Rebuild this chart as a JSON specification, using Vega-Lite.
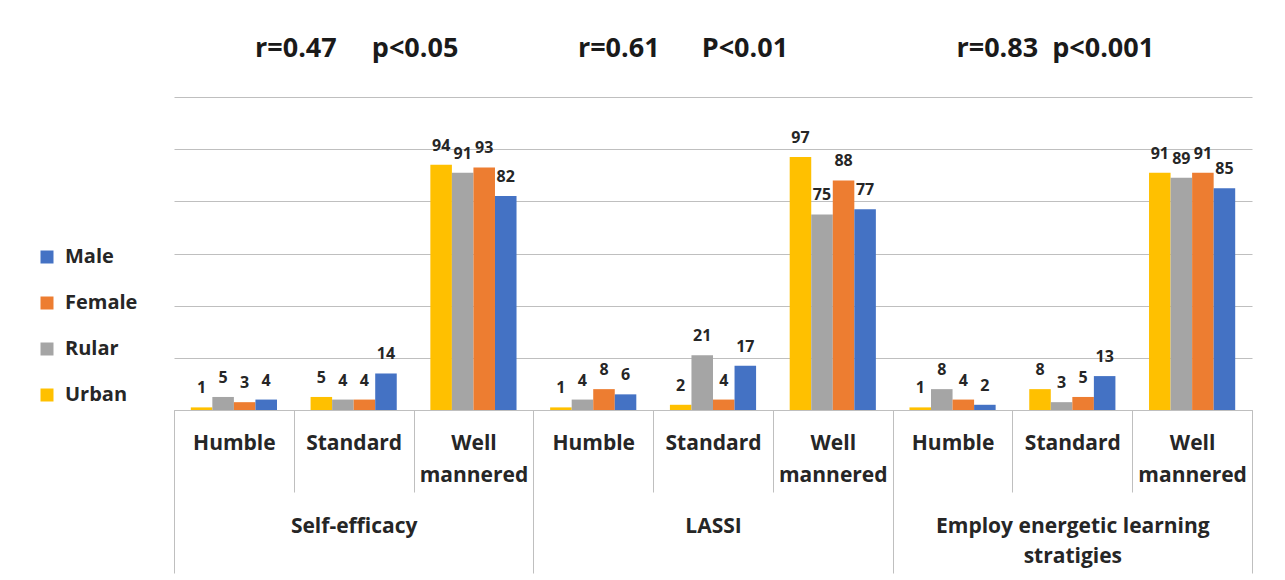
{
  "$schema": "https://vega.github.io/schema/vega-lite/v6.json",
  "width": 1078,
  "height": 313,
  "autosize": {"type": "none"},
  "padding": {"left": 174, "top": 97, "right": 33, "bottom": 170},
  "background": "white",
  "config": {
    "view": {"stroke": null},
    "font": "Open Sans"
  },
  "layer": [
    {
      "data": {
        "values": [
          {"group": "Self-efficacy", "level": "Humble", "series": "Urban", "value": 1},
          {"group": "Self-efficacy", "level": "Humble", "series": "Rular", "value": 5},
          {"group": "Self-efficacy", "level": "Humble", "series": "Female", "value": 3},
          {"group": "Self-efficacy", "level": "Humble", "series": "Male", "value": 4},
          {"group": "Self-efficacy", "level": "Standard", "series": "Urban", "value": 5},
          {"group": "Self-efficacy", "level": "Standard", "series": "Rular", "value": 4},
          {"group": "Self-efficacy", "level": "Standard", "series": "Female", "value": 4},
          {"group": "Self-efficacy", "level": "Standard", "series": "Male", "value": 14},
          {"group": "Self-efficacy", "level": "Well mannered", "series": "Urban", "value": 94},
          {"group": "Self-efficacy", "level": "Well mannered", "series": "Rular", "value": 91},
          {"group": "Self-efficacy", "level": "Well mannered", "series": "Female", "value": 93},
          {"group": "Self-efficacy", "level": "Well mannered", "series": "Male", "value": 82},
          {"group": "LASSI", "level": "Humble", "series": "Urban", "value": 1},
          {"group": "LASSI", "level": "Humble", "series": "Rular", "value": 4},
          {"group": "LASSI", "level": "Humble", "series": "Female", "value": 8},
          {"group": "LASSI", "level": "Humble", "series": "Male", "value": 6},
          {"group": "LASSI", "level": "Standard", "series": "Urban", "value": 2},
          {"group": "LASSI", "level": "Standard", "series": "Rular", "value": 21},
          {"group": "LASSI", "level": "Standard", "series": "Female", "value": 4},
          {"group": "LASSI", "level": "Standard", "series": "Male", "value": 17},
          {"group": "LASSI", "level": "Well mannered", "series": "Urban", "value": 97},
          {"group": "LASSI", "level": "Well mannered", "series": "Rular", "value": 75},
          {"group": "LASSI", "level": "Well mannered", "series": "Female", "value": 88},
          {"group": "LASSI", "level": "Well mannered", "series": "Male", "value": 77},
          {"group": "Employ energetic learning stratigies", "level": "Humble", "series": "Urban", "value": 1},
          {"group": "Employ energetic learning stratigies", "level": "Humble", "series": "Rular", "value": 8},
          {"group": "Employ energetic learning stratigies", "level": "Humble", "series": "Female", "value": 4},
          {"group": "Employ energetic learning stratigies", "level": "Humble", "series": "Male", "value": 2},
          {"group": "Employ energetic learning stratigies", "level": "Standard", "series": "Urban", "value": 8},
          {"group": "Employ energetic learning stratigies", "level": "Standard", "series": "Rular", "value": 3},
          {"group": "Employ energetic learning stratigies", "level": "Standard", "series": "Female", "value": 5},
          {"group": "Employ energetic learning stratigies", "level": "Standard", "series": "Male", "value": 13},
          {"group": "Employ energetic learning stratigies", "level": "Well mannered", "series": "Urban", "value": 91},
          {"group": "Employ energetic learning stratigies", "level": "Well mannered", "series": "Rular", "value": 89},
          {"group": "Employ energetic learning stratigies", "level": "Well mannered", "series": "Female", "value": 91},
          {"group": "Employ energetic learning stratigies", "level": "Well mannered", "series": "Male", "value": 85}
        ]
      },
      "transform": [
        {"calculate": "datum.group + '|' + datum.level", "as": "cat"}
      ],
      "encoding": {
        "x": {
          "field": "cat",
          "type": "nominal",
          "sort": null,
          "scale": {"paddingInner": 0, "paddingOuter": 0},
          "axis": {
            "orient": "bottom",
            "title": null,
            "domain": true,
            "domainColor": "#bfbfbf",
            "domainWidth": 1,
            "ticks": true,
            "tickBand": "extent",
            "tickSize": 82,
            "tickColor": "#bfbfbf",
            "tickWidth": 1,
            "labelExpr": "isString(datum.value) ? split(split(datum.value, '|')[1], ' ') : ''",
            "labelAngle": 0,
            "labelFont": "Open Sans",
            "labelFontSize": 21,
            "labelFontWeight": "bold",
            "labelColor": "#262626",
            "labelPadding": -60,
            "labelLineHeight": 32,
            "labelOverlap": false,
            "labelLimit": 0
          }
        },
        "xOffset": {
          "field": "series",
          "type": "nominal",
          "sort": ["Urban", "Rular", "Female", "Male"],
          "scale": {"paddingInner": 0, "paddingOuter": 0.78}
        },
        "y": {
          "field": "value",
          "type": "quantitative",
          "scale": {"domain": [0, 120], "nice": false},
          "axis": {
            "title": null,
            "values": [0, 20, 40, 60, 80, 100, 120],
            "labels": false,
            "ticks": false,
            "domain": false,
            "grid": true,
            "gridColor": "#bfbfbf",
            "gridWidth": 1
          }
        }
      },
      "layer": [
        {
          "mark": {"type": "bar"},
          "encoding": {
            "color": {
              "field": "series",
              "type": "nominal",
              "scale": {
                "domain": ["Urban", "Rular", "Female", "Male"],
                "range": ["#FFC000", "#A5A5A5", "#ED7D31", "#4472C4"]
              },
              "legend": {
                "values": ["Male", "Female", "Rular", "Urban"],
                "orient": "none",
                "direction": "vertical",
                "legendX": -137,
                "legendY": 150,
                "title": null,
                "symbolType": "square",
                "symbolSize": 169,
                "symbolStrokeWidth": 0,
                "labelFont": "Open Sans",
                "labelFontSize": 20,
                "labelFontWeight": "bold",
                "labelColor": "#262626",
                "labelOffset": 8,
                "rowPadding": 26
              }
            }
          }
        },
        {
          "mark": {
            "type": "text",
            "baseline": "alphabetic",
            "dy": -14,
            "font": "Open Sans",
            "fontSize": 16,
            "fontWeight": "bold",
            "color": "#262626"
          },
          "encoding": {
            "text": {"field": "value", "type": "quantitative"}
          }
        }
      ]
    },
    {
      "data": {
        "values": [
          {"group": "Self-efficacy", "note": "r=0.47\u00a0\u00a0\u00a0\u00a0\u00a0p<0.05"},
          {"group": "LASSI", "note": "r=0.61\u00a0\u00a0\u00a0\u00a0\u00a0\u00a0P<0.01"},
          {"group": "Employ energetic learning stratigies", "note": "r=0.83\u00a0\u00a0p<0.001"}
        ]
      },
      "encoding": {
        "x": {
          "field": "group",
          "type": "nominal",
          "sort": ["Self-efficacy", "LASSI", "Employ energetic learning stratigies"],
          "scale": {"paddingInner": 0, "paddingOuter": 0},
          "axis": {
            "orient": "bottom",
            "title": null,
            "domain": false,
            "ticks": true,
            "tickBand": "extent",
            "tickSize": 163,
            "tickColor": "#bfbfbf",
            "tickWidth": 1,
            "labelExpr": "datum.value == 'Employ energetic learning stratigies' ? ['Employ energetic learning', 'stratigies'] : (isString(datum.value) ? datum.value : '')",
            "labelAngle": 0,
            "labelFont": "Open Sans",
            "labelFontSize": 21,
            "labelFontWeight": "bold",
            "labelColor": "#262626",
            "labelPadding": -58,
            "labelLineHeight": 30,
            "labelOverlap": false,
            "labelLimit": 0
          }
        },
        "y": {"datum": 120},
        "text": {"field": "note", "type": "nominal"}
      },
      "layer": [
        {
          "transform": [{"filter": "datum.group == 'Self-efficacy'"}],
          "mark": {"type": "text", "baseline": "alphabetic", "dy": -40, "dx": 3, "font": "Open Sans", "fontSize": 27, "fontWeight": "bold", "color": "#1a1a1a"}
        },
        {
          "transform": [{"filter": "datum.group == 'LASSI'"}],
          "mark": {"type": "text", "baseline": "alphabetic", "dy": -40, "dx": -30, "font": "Open Sans", "fontSize": 27, "fontWeight": "bold", "color": "#1a1a1a"}
        },
        {
          "transform": [{"filter": "datum.group == 'Employ energetic learning stratigies'"}],
          "mark": {"type": "text", "baseline": "alphabetic", "dy": -40, "dx": -17, "font": "Open Sans", "fontSize": 27, "fontWeight": "bold", "color": "#1a1a1a"}
        }
      ]
    }
  ],
  "resolve": {"scale": {"x": "independent"}, "axis": {"x": "independent"}}
}
